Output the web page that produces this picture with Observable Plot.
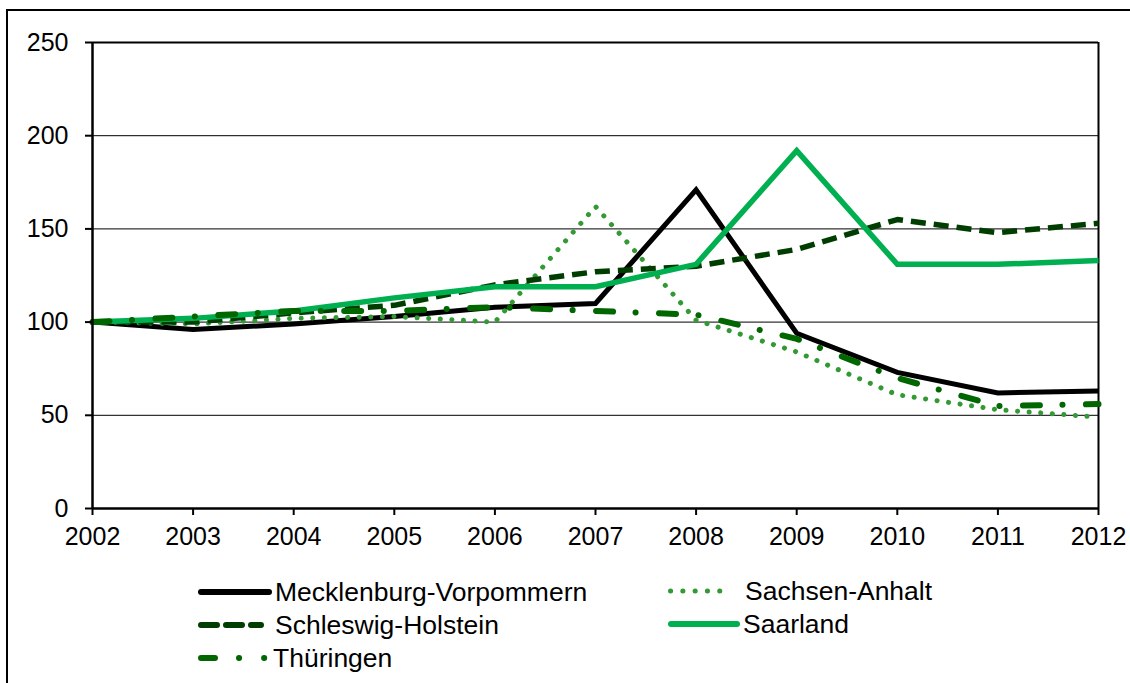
<!DOCTYPE html>
<html>
<head>
<meta charset="utf-8">
<script src="https://cdn.jsdelivr.net/npm/d3@7"></script>
<script src="https://cdn.jsdelivr.net/npm/@observablehq/plot@0.6"></script>
<style>
  html, body { margin: 0; padding: 0; background: #fff; }
  body { width: 1130px; height: 683px; overflow: hidden; position: relative; font-family: "Liberation Sans", Arial, sans-serif; }
  #chart { position: absolute; left: 0; top: 0; }
  #border { position: absolute; left: 6px; top: 9px; width: 1300px; height: 800px; border: 2px solid #000; pointer-events: none; box-sizing: border-box; }
  .leg { position: absolute; display: flex; align-items: center; font-size: 26.5px; color: #000; white-space: nowrap; }
  .leg svg { display: block; }
</style>
</head>
<body>
<div id="chart"></div>
<div id="border"></div>
<div id="legend"></div>
<script>
// ---- data ----
const years = [2002, 2003, 2004, 2005, 2006, 2007, 2008, 2009, 2010, 2011, 2012];
const seriesNames = ["Mecklenburg-Vorpommern", "Sachsen-Anhalt", "Schleswig-Holstein", "Saarland", "Thüringen"];
const mecklenburgVorpommern = [100, 96, 99, 103, 108, 110, 171, 94, 73, 62, 63];
const sachsenAnhalt        = [100, 99, 102, 103, 100, 162, 101, 84, 61, 53, 49];
const schleswigHolstein    = [100, 100, 105, 109, 120, 127, 130, 139, 155, 148, 153];
const saarland             = [100, 102, 106, 113, 119, 119, 131, 192, 131, 131, 133];
const thueringen           = [100, 103, 106, 106, 108, 106, 104, 91, 70, 55, 56];
const yTicks = [0, 50, 100, 150, 200, 250];

// ---- styles ----
const seriesValues = [mecklenburgVorpommern, sachsenAnhalt, schleswigHolstein, saarland, thueringen];
const styles = [
  {stroke: "#000000", strokeWidth: 5,   dash: null,               cap: "butt",  join: "miter"},
  {stroke: "#339933", strokeWidth: 5,   dash: "0.1 11.5",         cap: "round", join: "round"},
  {stroke: "#003d00", strokeWidth: 5.5, dash: "15 8",             cap: "butt",  join: "round"},
  {stroke: "#00b050", strokeWidth: 5.5, dash: null,               cap: "butt",  join: "miter"},
  {stroke: "#006600", strokeWidth: 6,   dash: "17 22.5 0.1 23.4", cap: "round", join: "round"}
];
const legendStyles = [
  {width: 74, dash: null, cap: "round", sw: 6, gap: 3},
  {width: 66, dash: "0.1 12.2", cap: "round", sw: 5, gap: 11},
  {width: 66, dash: "16 9", cap: "round", sw: 6, gap: 11},
  {width: 72, dash: null, cap: "round", sw: 6, gap: 3},
  {width: 72, dash: "14 24 0.1 25 0.1 200", cap: "round", sw: 6, gap: 3}
];

const rows = [];
seriesNames.forEach((name, i) => {
  years.forEach((yr, j) => rows.push({series: name, year: yr, value: seriesValues[i][j]}));
});

const lineMarks = seriesNames.map((name, i) => Plot.line(rows.filter(d => d.series === name), {
  x: "year", y: "value",
  stroke: styles[i].stroke,
  strokeWidth: styles[i].strokeWidth,
  strokeDasharray: styles[i].dash || undefined,
  strokeLinecap: styles[i].cap,
  strokeLinejoin: styles[i].join,
  strokeMiterlimit: 10
}));

const chart = Plot.plot({
  width: 1130,
  height: 560,
  marginLeft: 92,
  marginRight: 32,
  marginTop: 42,
  marginBottom: 52,
  style: {fontFamily: '"Liberation Sans", Arial, sans-serif', fontSize: "25px", color: "#000", background: "transparent", overflow: "visible"},
  x: {type: "linear", domain: [2002, 2012]},
  y: {domain: [0, 250]},
  marks: [
    Plot.ruleY(yTicks.filter(v => v > 0 && v < 250), {stroke: "#000", strokeWidth: 1}),
    Plot.ruleY([250], {stroke: "#000", strokeWidth: 2}),
    Plot.ruleX([2012], {stroke: "#000", strokeWidth: 2}),
    ...lineMarks,
    Plot.ruleY([0], {stroke: "#000", strokeWidth: 2.5}),
    Plot.ruleX([2002], {stroke: "#000", strokeWidth: 2.5}),
    Plot.axisX({ticks: years, tickFormat: d => String(d), tickSize: 7, tickPadding: 12, fontSize: 25, strokeWidth: 2, stroke: "#000", label: null}),
    Plot.axisY({ticks: yTicks, tickSize: 7, tickPadding: 17, fontSize: 25, strokeWidth: 2, stroke: "#000", label: null})
  ]
});
document.getElementById("chart").appendChild(chart);

// ---- legend ----
const legPos = [
  {left: 198, top: 592}, {left: 668, top: 591},
  {left: 198, top: 625}, {left: 668, top: 624},
  {left: 198, top: 658}
];
const legend = document.getElementById("legend");
const ns = "http://www.w3.org/2000/svg";
seriesNames.forEach((name, i) => {
  const s = styles[i], L = legendStyles[i];
  const div = document.createElement("div");
  div.className = "leg";
  div.style.left = legPos[i].left + "px";
  div.style.top = (legPos[i].top - 16) + "px";
  div.style.height = "32px";
  const svg = document.createElementNS(ns, "svg");
  svg.setAttribute("width", L.width);
  svg.setAttribute("height", 12);
  svg.style.marginRight = L.gap + "px";
  const ln = document.createElementNS(ns, "line");
  const pad = L.sw / 2;
  ln.setAttribute("x1", pad); ln.setAttribute("x2", L.width - pad);
  ln.setAttribute("y1", 6); ln.setAttribute("y2", 6);
  ln.setAttribute("stroke", s.stroke);
  ln.setAttribute("stroke-width", L.sw);
  ln.setAttribute("stroke-linecap", L.cap);
  if (L.dash) ln.setAttribute("stroke-dasharray", L.dash);
  svg.appendChild(ln);
  div.appendChild(svg);
  const t = document.createElement("span");
  t.textContent = name;
  div.appendChild(t);
  legend.appendChild(div);
});
</script>
</body>
</html>
